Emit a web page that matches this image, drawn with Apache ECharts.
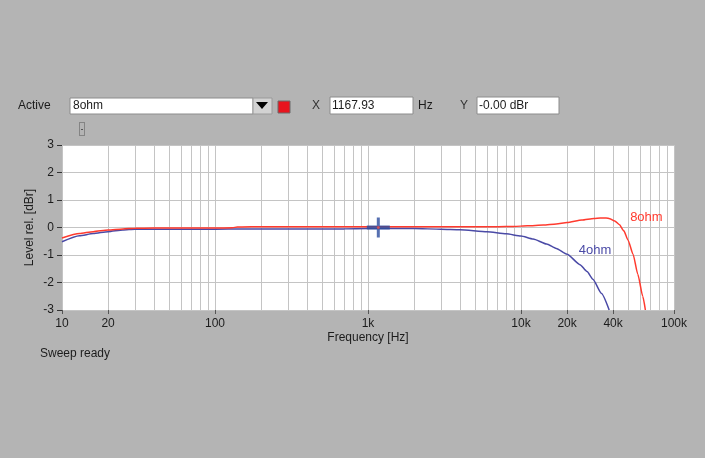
<!DOCTYPE html>
<html>
<head>
<meta charset="utf-8">
<script src="https://cdn.jsdelivr.net/npm/echarts@6/dist/echarts.min.js"></script>
<style>
html,body{margin:0;padding:0;background:#b4b4b4}
#chart{width:705px;height:458px}
</style>
</head>
<body>
<div id="chart"></div>
<script>
// 8ohm sweep
const freq8 = [10, 13, 16, 20, 25, 30, 40, 50, 70, 100, 130, 140, 150, 200, 300, 500, 700, 1000, 1500, 2000, 3000, 5000, 7000, 9000, 11000, 14000, 17000, 20000, 25000, 30000, 33000, 36000, 38000, 41000, 44000, 47000, 50000, 54000, 58000, 62500, 65000]
const level8 = [-0.38, -0.22, -0.15, -0.09, -0.05, -0.03, -0.02, -0.02, -0.02, -0.02, -0.01, 0.02, 0.02, 0.03, 0.03, 0.03, 0.03, 0.03, 0.03, 0.03, 0.03, 0.03, 0.03, 0.04, 0.06, 0.09, 0.13, 0.18, 0.27, 0.33, 0.35, 0.35, 0.32, 0.24, 0.1, -0.12, -0.45, -0.97, -1.7, -2.5, -3.0]
// 4ohm sweep
const freq4 = [10, 13, 16, 20, 25, 30, 40, 50, 70, 100, 150, 200, 300, 500, 700, 1000, 1500, 2000, 3000, 4000, 6000, 8000, 10000, 12000, 14700, 17000, 20000, 24300, 27000, 29500, 33600, 37700]
const level4 = [-0.52, -0.3, -0.22, -0.15, -0.09, -0.06, -0.06, -0.06, -0.06, -0.06, -0.05, -0.05, -0.05, -0.05, -0.05, -0.04, -0.04, -0.04, -0.06, -0.08, -0.15, -0.23, -0.31, -0.42, -0.6, -0.76, -0.97, -1.35, -1.6, -1.88, -2.4, -3.0]
// cursor
const cursorX = 1167.93
const cursorY = 0
// axis ticks
const xLabels = [10, 20, 100, 1000, 10000, 20000, 40000, 100000]
const gridFreqs = [20, 30, 40, 50, 60, 70, 80, 90, 200, 300, 400, 500, 600, 700, 800, 900,
  2000, 3000, 4000, 5000, 6000, 7000, 8000, 9000, 20000, 30000, 40000, 50000, 60000, 70000, 80000, 90000]
const yMin = -3, yMax = 3

const font = 'Liberation Sans, Arial, sans-serif'
const txt = '#1c1c1c'
const red = '#ff3a2e'
const blue = '#4a4aa6'

let chart = echarts.init(document.getElementById('chart'))
let option = {
  backgroundColor: '#b4b4b4',
  animation: false,
  textStyle: {fontFamily: font},
  grid: {left: 62, right: 31, top: 145, bottom: 148, show: true, backgroundColor: '#ffffff', borderWidth: 0},
  xAxis: {
    type: 'log', logBase: 10, min: 10, max: 100000,
    name: 'Frequency [Hz]', nameLocation: 'middle', nameGap: 22,
    nameTextStyle: {color: txt, fontSize: 12, fontFamily: font},
    axisLine: {show: false, onZero: false},
    axisTick: {show: true, customValues: xLabels, length: 4, lineStyle: {color: '#555'}},
    axisLabel: {
      customValues: xLabels, color: txt, fontSize: 12, margin: 8, fontFamily: font,
      formatter: v => {
        let r = Math.round(v)
        return r >= 1000 ? (r / 1000) + 'k' : String(r)
      }
    },
    splitLine: {show: true, lineStyle: {color: '#c4c4c4', width: 1}}
  },
  yAxis: {
    type: 'value', min: yMin, max: yMax, interval: 1,
    name: 'Level rel. [dBr]', nameLocation: 'middle', nameGap: 26, nameRotate: 90, nameMoveOverlap: false,
    nameTextStyle: {color: txt, fontSize: 12, fontFamily: font},
    axisLine: {show: false, onZero: false},
    axisTick: {show: true, length: 5, lineStyle: {color: '#333'}},
    axisLabel: {color: txt, fontSize: 12, margin: 8, fontFamily: font},
    splitLine: {show: true, lineStyle: {color: '#c4c4c4', width: 1}}
  },
  series: [
    {
      name: '4ohm', type: 'line', z: 3, showSymbol: false, smooth: 0.2, smoothMonotone: 'x',
      data: freq4.map((f, i) => [f, level4[i]]),
      lineStyle: {color: blue, width: 1.5},
      markLine: {
        // minor log grid
        silent: true, symbol: 'none', animation: false, z: 1,
        label: {show: false},
        lineStyle: {color: '#c4c4c4', width: 1, type: 'solid'},
        data: gridFreqs.map(f => ({xAxis: f}))
      },
      markPoint: {
        symbol: 'circle', symbolSize: 0, silent: true,
        label: {show: true, formatter: '4ohm', color: blue, fontSize: 13, fontFamily: font},
        data: [{coord: [30500, -0.83]}]
      }
    },
    {
      name: '8ohm', type: 'line', z: 4, showSymbol: false, smooth: 0.2, smoothMonotone: 'x',
      data: freq8.map((f, i) => [f, level8[i]]),
      lineStyle: {color: red, width: 1.5},
      markPoint: {
        symbol: 'circle', symbolSize: 0, silent: true,
        label: {show: true, formatter: '8ohm', color: red, fontSize: 13, fontFamily: font},
        data: [{coord: [66000, 0.37]}]
      }
    },
    {
      // cursor cross
      type: 'scatter', z: 6, silent: true,
      symbol: 'path://M0,8H10V0H13V8H23V12H13V20H10V12H0Z', symbolSize: [23, 20],
      itemStyle: {color: '#2c4c9e'},
      data: [[cursorX, cursorY]]
    },
    {
      type: 'scatter', z: 7, silent: true, symbol: 'circle', symbolSize: 3,
      itemStyle: {color: '#e85050'},
      data: [[cursorX, cursorY]]
    }
  ],
  graphic: [
    {type: 'text', left: 18, top: 100, style: {text: 'Active', fill: txt, font: '12px ' + font}},
    {type: 'rect', shape: {x: 70, y: 98, width: 183, height: 16}, style: {fill: '#ffffff', stroke: '#8c8c8c', lineWidth: 1}},
    {type: 'text', left: 73, top: 100, style: {text: '8ohm', fill: txt, font: '12px ' + font}},
    {type: 'rect', shape: {x: 253, y: 98, width: 19, height: 16}, style: {fill: '#d2d2d2', stroke: '#9a9a9a', lineWidth: 1}},
    {type: 'polygon', shape: {points: [[256, 102], [268, 102], [262, 109]]}, style: {fill: '#000'}},
    {type: 'rect', shape: {x: 278, y: 101, width: 12, height: 12}, style: {fill: '#e8141e', stroke: '#6a6a6a', lineWidth: 1}},
    {type: 'text', left: 312, top: 100, style: {text: 'X', fill: '#333', font: '12px ' + font}},
    {type: 'rect', shape: {x: 330, y: 97, width: 83, height: 17}, style: {fill: '#ffffff', stroke: '#8c8c8c', lineWidth: 1}},
    {type: 'text', left: 332, top: 100, style: {text: '1167.93', fill: txt, font: '12px ' + font}},
    {type: 'text', left: 418, top: 100, style: {text: 'Hz', fill: txt, font: '12px ' + font}},
    {type: 'text', left: 460, top: 100, style: {text: 'Y', fill: '#333', font: '12px ' + font}},
    {type: 'rect', shape: {x: 477, y: 97, width: 82, height: 17}, style: {fill: '#ffffff', stroke: '#8c8c8c', lineWidth: 1}},
    {type: 'text', left: 479, top: 100, style: {text: '-0.00 dBr', fill: txt, font: '12px ' + font}},
    {type: 'rect', shape: {x: 79.5, y: 122.5, width: 5, height: 13}, style: {fill: 'none', stroke: '#555', lineWidth: 1, lineDash: [1, 1]}},
    {type: 'line', shape: {x1: 81, y1: 129.5, x2: 83, y2: 129.5}, style: {stroke: '#555', lineWidth: 1}},
    {type: 'text', left: 40, top: 348, style: {text: 'Sweep ready', fill: txt, font: '12px ' + font}}
  ]
}
chart.setOption(option)
</script>
</body>
</html>
